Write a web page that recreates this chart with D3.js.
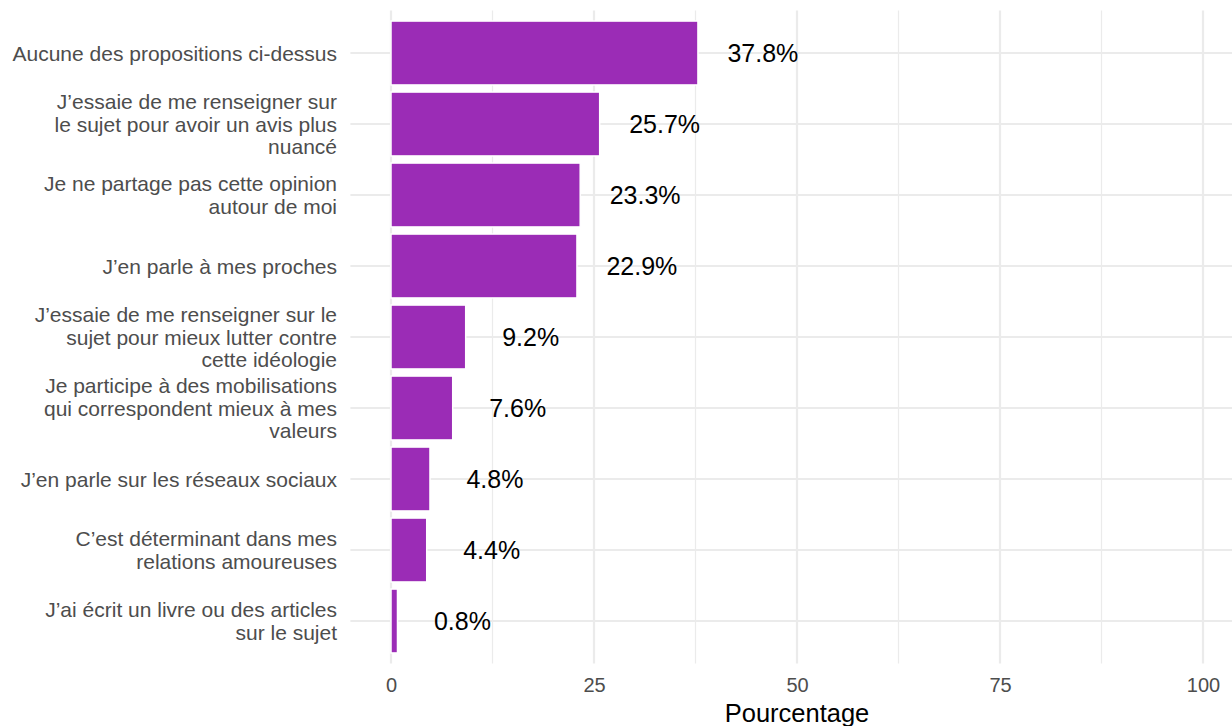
<!DOCTYPE html>
<html><head><meta charset="utf-8">
<script src="https://cdn.jsdelivr.net/npm/d3@7"></script>
<style>body{margin:0;background:#fff}svg{display:block;font-family:"Liberation Sans",Arial,sans-serif}</style>
</head><body>
<svg id="c" width="1232" height="726"></svg>
<script>
const categories = [
  "Aucune des propositions ci-dessus",
  "J’essaie de me renseigner sur\nle sujet pour avoir un avis plus\nnuancé",
  "Je ne partage pas cette opinion\nautour de moi",
  "J’en parle à mes proches",
  "J’essaie de me renseigner sur le\nsujet pour mieux lutter contre\ncette idéologie",
  "Je participe à des mobilisations\nqui correspondent mieux à mes\nvaleurs",
  "J’en parle sur les réseaux sociaux",
  "C’est déterminant dans mes\nrelations amoureuses",
  "J’ai écrit un livre ou des articles\nsur le sujet"
];
const values = [37.8, 25.7, 23.3, 22.9, 9.2, 7.6, 4.8, 4.4, 0.8];
const xTicks = [0, 25, 50, 75, 100];
const xMinor = [12.5, 37.5, 62.5, 87.5];
const xTitle = "Pourcentage";

const svg = d3.select("#c");
const panel = {top: 10.4, bottom: 663.6, left: 350.4, right: 1243.6};
const x = d3.scaleLinear().domain([0, 100]).range([391, 1203]);
const y = d3.scaleBand().domain(categories).range([17.5, 656.5]).paddingInner(0.1).paddingOuter(0.05);

const grid = svg.append("g");
grid.selectAll(".mn").data(xMinor).join("line")
  .attr("x1", d => x(d)).attr("x2", d => x(d))
  .attr("y1", panel.top).attr("y2", panel.bottom)
  .attr("stroke", "#EBEBEB").attr("stroke-width", 1.2);
grid.selectAll(".mj").data(xTicks).join("line")
  .attr("x1", d => x(d)).attr("x2", d => x(d))
  .attr("y1", panel.top).attr("y2", panel.bottom)
  .attr("stroke", "#EBEBEB").attr("stroke-width", 2.2);
grid.selectAll(".hy").data(categories).join("line")
  .attr("x1", panel.left).attr("x2", panel.right)
  .attr("y1", d => y(d) + y.bandwidth() / 2).attr("y2", d => y(d) + y.bandwidth() / 2)
  .attr("stroke", "#EBEBEB").attr("stroke-width", 2.2);

svg.append("g").selectAll("rect").data(categories).join("rect")
  .attr("x", x(0)).attr("y", d => y(d))
  .attr("width", (d, i) => x(values[i]) - x(0))
  .attr("height", y.bandwidth())
  .attr("fill", "#9B2CB6").attr("stroke", "#FFFFFF").attr("stroke-width", 1.5);

svg.append("g").selectAll("text").data(categories).join("text")
  .attr("x", (d, i) => x(values[i] + 8))
  .attr("y", d => y(d) + y.bandwidth() / 2)
  .attr("text-anchor", "middle").attr("dominant-baseline", "central")
  .attr("font-size", 25).attr("fill", "#000")
  .text((d, i) => values[i].toFixed(1) + "%");

// y axis labels
const lh = 22.5;
const yl = svg.append("g");
categories.forEach(c => {
  const lines = c.split("\n");
  const cy = y(c) + y.bandwidth() / 2;
  const t = yl.append("text").attr("text-anchor", "end").attr("font-size", 21).attr("fill", "#4D4D4D");
  lines.forEach((l, k) => {
    t.append("tspan").attr("x", 337)
      .attr("y", cy + (k - (lines.length - 1) / 2) * lh)
      .attr("dominant-baseline", "central").text(l);
  });
});

// x axis
const xAxis = d3.axisBottom(x).tickValues(xTicks).tickSize(0).tickPadding(0).tickFormat(d3.format("d"));
const xg = svg.append("g").attr("transform", "translate(0,678)").call(xAxis);
xg.select(".domain").remove();
xg.selectAll("text").attr("font-size", 20).attr("fill", "#4D4D4D").attr("font-family", "Liberation Sans, Arial, sans-serif");

svg.append("text").attr("x", (panel.left + panel.right) / 2).attr("y", 713)
  .attr("text-anchor", "middle").attr("dominant-baseline", "central")
  .attr("font-size", 25.5).attr("fill", "#000").text(xTitle);
</script>
</body></html>
